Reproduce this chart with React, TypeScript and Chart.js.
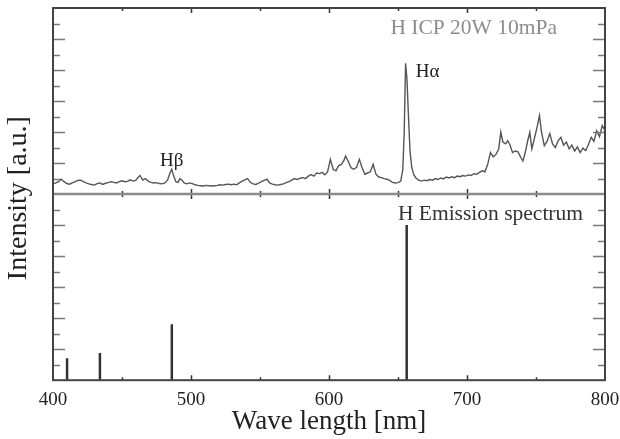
import React, { useEffect, useRef } from 'react';
import { Chart, registerables } from 'chart.js';

Chart.register(...registerables);

// ---- data ----
const xTickValues = [400, 500, 600, 700, 800];

const icpWavelengths = [
  400, 402, 404, 406, 408, 410, 412, 414, 416, 418, 420, 422, 424, 426, 428, 430, 432, 434, 436, 438,
  440, 442, 444, 446, 448, 450, 452, 454, 456, 458, 460, 462, 463, 465, 467, 469, 471, 473, 475, 477,
  479, 481, 483, 484.5, 486, 487.5, 489, 490.5, 492, 493.5, 495, 497, 499, 501, 503, 505, 507, 509, 511, 513,
  515, 517, 519, 521, 523, 525, 527, 529, 531, 533, 535, 537, 539, 541, 543, 545, 547, 549, 551, 553,
  555, 557, 559, 561, 563, 565, 567, 569, 571, 573, 575, 577, 579, 581, 583, 585, 587, 589, 591, 593,
  595, 597, 599, 601, 603, 605, 607, 609, 611, 612, 614, 616, 618, 620, 622, 624, 626, 628, 630, 632,
  634, 636, 638, 640, 642, 644, 646, 648, 650, 652, 653.5, 654.5, 655.5, 656.5, 657.5, 658.7, 660, 661.5, 663, 665,
  667, 669, 671, 673, 675, 677, 679, 681, 683, 685, 687, 689, 691, 693, 695, 697, 699, 701, 703, 705,
  707, 709, 711, 713, 715, 717, 719, 721, 723, 724.5, 726, 728, 729.5, 731, 733, 735, 737, 739, 740.5, 742,
  744, 745.5, 747, 749, 751, 752.5, 754, 756, 758, 760, 762, 764, 766, 768, 770, 772, 774, 776, 778, 780,
  782, 784, 786, 788, 790, 792, 794, 796, 798, 800,
];

const icpIntensities = [
  0.33, 0.36, 0.40, 0.48, 0.40, 0.34, 0.32, 0.36, 0.40, 0.44, 0.45, 0.40, 0.36, 0.33, 0.31, 0.29, 0.34, 0.36, 0.31, 0.35,
  0.37, 0.40, 0.38, 0.36, 0.40, 0.43, 0.40, 0.41, 0.46, 0.42, 0.44, 0.56, 0.60, 0.45, 0.50, 0.42, 0.38, 0.36, 0.37, 0.34,
  0.33, 0.36, 0.45, 0.65, 0.80, 0.58, 0.40, 0.38, 0.50, 0.45, 0.36, 0.33, 0.36, 0.34, 0.30, 0.28, 0.27, 0.26, 0.28, 0.27,
  0.26, 0.27, 0.28, 0.30, 0.29, 0.31, 0.32, 0.30, 0.32, 0.30, 0.36, 0.42, 0.46, 0.50, 0.38, 0.33, 0.31, 0.35, 0.40, 0.44,
  0.48, 0.36, 0.32, 0.30, 0.29, 0.31, 0.33, 0.37, 0.40, 0.45, 0.50, 0.47, 0.51, 0.53, 0.50, 0.58, 0.63, 0.58, 0.68, 0.66,
  0.70, 0.62, 0.72, 1.12, 0.80, 0.75, 0.92, 0.96, 1.10, 1.23, 1.05, 0.85, 0.80, 0.86, 1.12, 0.85, 0.64, 0.68, 0.72, 0.96,
  0.64, 0.55, 0.53, 0.50, 0.48, 0.44, 0.38, 0.36, 0.37, 0.42, 0.80, 2.00, 4.22, 3.70, 2.60, 1.39, 0.85, 0.62, 0.52, 0.45,
  0.42, 0.45, 0.43, 0.47, 0.45, 0.50, 0.47, 0.52, 0.49, 0.55, 0.52, 0.56, 0.53, 0.58, 0.56, 0.60, 0.58, 0.62, 0.60, 0.66,
  0.64, 0.70, 0.75, 0.72, 0.96, 1.34, 1.20, 1.28, 1.45, 2.00, 1.68, 1.62, 1.72, 1.60, 1.34, 1.39, 1.36, 1.18, 1.07, 1.30,
  1.72, 1.99, 1.46, 1.82, 2.20, 2.53, 2.00, 1.56, 1.70, 1.95, 1.62, 1.50, 1.72, 1.83, 1.58, 1.68, 1.46, 1.58, 1.39, 1.52,
  1.34, 1.48, 1.40, 1.60, 1.83, 1.70, 2.04, 1.85, 2.21, 2.05,
];

const emissionWavelengths = [410.2, 434.0, 486.1, 656.3];
const emissionIntensities = [0.71, 0.88, 1.8, 5.0];

const peakLabels = ['H\u03b1', 'H\u03b2'];
const peakWavelengths = [656.3, 486.1];
const peakLabelIntensities = [3.92, 1.07];

const panelTitles = ['H ICP 20W 10mPa', 'H Emission spectrum'];

const SERIF = '"Liberation Serif", "Times New Roman", serif';

const framePlugin = {
  id: 'frameAndTicks',
  afterDatasetsDraw(chart: any) {
    const ctx = chart.ctx as CanvasRenderingContext2D;
    const x = chart.scales.x;
    const yTop = chart.scales.yTop;
    const yBot = chart.scales.yBot;
    const { left, right, top, bottom } = chart.chartArea;
    const mid = yBot.top;
    ctx.save();

    // y ticks (inward) on left & right for both panels
    ctx.strokeStyle = '#7a7a7a';
    ctx.lineWidth = 1.5;
    const yScales = [yTop, yBot];
    for (const s of yScales) {
      for (let v = 0.5; v < 6; v += 0.5) {
        const py = Math.round(s.getPixelForValue(v)) + 0.5;
        const len = Number.isInteger(v) ? 12 : 7;
        ctx.beginPath();
        ctx.moveTo(left, py);
        ctx.lineTo(left + len, py);
        ctx.moveTo(right, py);
        ctx.lineTo(right - len, py);
        ctx.stroke();
      }
    }

    // x ticks
    ctx.strokeStyle = '#333';
    ctx.lineWidth = 1.5;
    for (let v = 450; v < 800; v += 50) {
      const px = Math.round(x.getPixelForValue(v)) + 0.5;
      const len = v % 100 === 0 ? 5 : 3;
      ctx.beginPath();
      ctx.moveTo(px, bottom);
      ctx.lineTo(px, bottom - len);
      ctx.moveTo(px, top);
      ctx.lineTo(px, top + len);
      ctx.moveTo(px, mid - len);
      ctx.lineTo(px, mid + len);
      ctx.stroke();
    }

    // middle divider
    ctx.strokeStyle = '#8a8a8a';
    ctx.lineWidth = 2.5;
    ctx.beginPath();
    ctx.moveTo(left, mid);
    ctx.lineTo(right, mid);
    ctx.stroke();

    // frame
    ctx.strokeStyle = '#444';
    ctx.lineWidth = 2;
    ctx.strokeRect(left, top, right - left, bottom - top);

    // peak labels
    ctx.fillStyle = '#222';
    ctx.font = `19px ${SERIF}`;
    ctx.textBaseline = 'middle';
    ctx.textAlign = 'left';
    ctx.fillText(peakLabels[0], x.getPixelForValue(peakWavelengths[0] + 6.5), yTop.getPixelForValue(peakLabelIntensities[0]));
    ctx.textAlign = 'center';
    ctx.fillText(peakLabels[1], x.getPixelForValue(peakWavelengths[1]), yTop.getPixelForValue(peakLabelIntensities[1]));

    // panel titles
    ctx.textBaseline = 'alphabetic';
    ctx.textAlign = 'right';
    ctx.fillStyle = '#8c8c8c';
    ctx.font = `21.5px ${SERIF}`;
    ctx.fillText(panelTitles[0], right - 48, top + 26);
    ctx.fillStyle = '#333';
    ctx.font = `21.5px ${SERIF}`;
    ctx.fillText(panelTitles[1], right - 22, mid + 26);

    // y title
    ctx.save();
    ctx.translate(26, (top + bottom) / 2 + 4);
    ctx.rotate(-Math.PI / 2);
    ctx.textAlign = 'center';
    ctx.textBaseline = 'alphabetic';
    ctx.fillStyle = '#222';
    ctx.font = `28px ${SERIF}`;
    ctx.fillText('Intensity [a.u.]', 0, 0);
    ctx.restore();

    ctx.restore();
  },
};

export default function App() {
  const canvasRef = useRef<HTMLCanvasElement | null>(null);

  useEffect(() => {
    if (!canvasRef.current) return;

    const icpData = icpWavelengths.map((w, i) => ({ x: w, y: icpIntensities[i] }));
    const emissionData: { x: number; y: number | null }[] = [];
    emissionWavelengths.forEach((w, i) => {
      emissionData.push({ x: w, y: 0 });
      emissionData.push({ x: w, y: emissionIntensities[i] });
      emissionData.push({ x: w, y: null });
    });

    const hiddenY = (extra: any) => ({
      type: 'linear',
      min: 0,
      max: 6,
      stack: 'panels',
      stackWeight: 1,
      offset: false,
      position: 'left',
      grid: { display: false, drawTicks: false, tickLength: 0 },
      border: { display: false },
      ticks: { display: false },
      title: { display: false },
      ...extra,
    });

    const chart = new Chart(canvasRef.current, {
      type: 'line',
      data: {
        datasets: [
          {
            label: 'ICP',
            data: icpData,
            yAxisID: 'yTop',
            borderColor: '#555',
            borderWidth: 1.4,
            pointRadius: 0,
            tension: 0,
          },
          {
            label: 'Emission',
            data: emissionData,
            yAxisID: 'yBot',
            borderColor: '#333',
            borderWidth: 2.5,
            pointRadius: 0,
            spanGaps: false,
            tension: 0,
          },
        ],
      },
      options: {
        animation: false,
        responsive: false,
        maintainAspectRatio: false,
        events: [],
        layout: { padding: { left: 53, right: 15, top: 8, bottom: 0 } },
        plugins: { legend: { display: false }, tooltip: { enabled: false } },
        scales: {
          x: {
            type: 'linear',
            min: 400,
            max: 800,
            offset: false,
            grid: { display: true, drawOnChartArea: false, drawTicks: true, tickLength: 8, color: 'rgba(0,0,0,0)' },
            border: { display: false },
            afterBuildTicks: (axis: any) => {
              axis.ticks = xTickValues.map((v) => ({ value: v }));
            },
            ticks: {
              font: { family: SERIF, size: 19 },
              color: '#222',
              padding: 0,
              maxRotation: 0,
              autoSkip: false,
            },
            title: {
              display: true,
              text: 'Wave length [nm]',
              font: { family: SERIF, size: 27, lineHeight: 1.0 },
              color: '#222',
              padding: { top: -3, bottom: 4 },
            },
          },
          yBot: hiddenY({}),
          yTop: hiddenY({}),
        } as any,
      },
      plugins: [framePlugin],
    } as any);

    return () => chart.destroy();
  }, []);

  return (
    <div style={{ position: 'fixed', left: 0, top: 0, width: 620, height: 439, background: '#fff' }}>
      <canvas ref={canvasRef} width={620} height={439} style={{ display: 'block', width: 620, height: 439 }} />
    </div>
  );
}
